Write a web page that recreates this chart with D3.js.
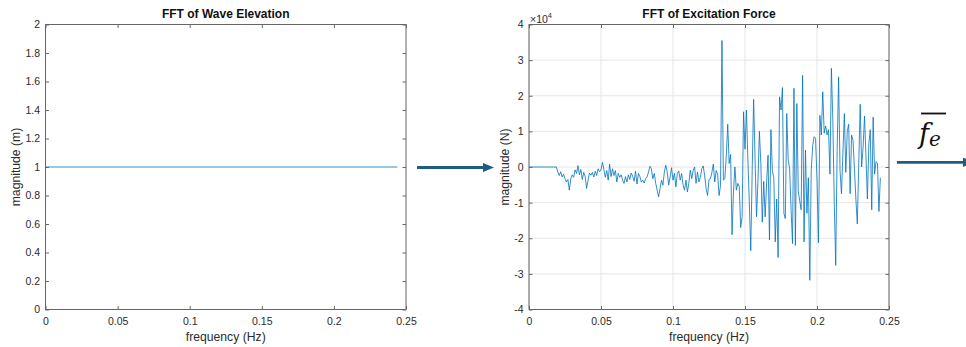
<!DOCTYPE html>
<html>
<head>
<meta charset="utf-8">
<script src="https://cdn.jsdelivr.net/npm/d3@7"></script>
<style>
  html, body { margin: 0; padding: 0; background: #fff; }
  svg { display: block; font-family: "Liberation Sans", Arial, Helvetica, sans-serif; }
</style>
</head>
<body>
<svg id="fig" width="966" height="347"></svg>
<script>
// Axis ticks
const freqTicks = [0, 0.05, 0.1, 0.15, 0.2, 0.25];
const waveTicks = [0, 0.2, 0.4, 0.6, 0.8, 1, 1.2, 1.4, 1.6, 1.8, 2];
const forceTicks = [-40000, -30000, -20000, -10000, 0, 10000, 20000, 30000, 40000];

// Wave elevation spectrum (m): flat unit amplitude
const waveFreq = [0, 0.244];
const waveMag = [1, 1];

// Excitation force spectrum (N), one value per 0.001 Hz bin starting at 0 Hz
const forceStep = 0.001;
const forceMag = [
  0, 0, 0, 0, 0, 0, 0, 0, 0, 0,
  0, 0, 0, 0, 0, 0, 0, 0, 0, 0,
  -1400, -2400, -1300, -2800, -2000, -3300, -4200, -3500, -6500, -3300,
  -2200, -2900, -800, -1800, 400, -2200, -700, -3500, -1500, -2600,
  -6000, -3800, -1700, -2300, -1500, -2800, -1200, -2400, -500, -1300,
  -800, 1300, -700, -2900, -1000, -3700, 800, -2700, -500, -2400,
  -1000, -4200, -1800, -2900, -2200, -3700, -4600, -2700, -4200, -2200,
  -3500, -1700, -2600, -4000, -1200, -4800, -1800, -2700,
  -4200, -3700, -4500, -3300, -2800, -1400, 200, -500, -3300, -1800,
  -4600, -6500, -8400, -6000, -3700, -5100, -1400, 500, -1400, -5100,
  -2800, -200, -3700, -1800, -5600, -1800, -1100, -3700, -1800, -5100,
  -6500, -3700, -7000, -4600, -900, -3300, -900, 0, -4600, -1400,
  -4200,
  -2900, -500, 300, -2500, -6000, -8000, -3500, -3300, -1500, 800,
  -4200, -1000, -2000, -8000, -5200,
  35500, -3700, -3200, 3000, 12000, 1000, 3500, -19000, -7000, 0,
  -6500, -4600, -5500, -17000, -14000, 15500, 5000, 16000, 2000, -10000,
  -23500, -1000, 19000, 2000, -14000, -4000, 10000, 1000, -15500, -4000,
  -14000, -4500, 3300, -20500,
  10500, -1000, -3000, -21000, -9000, -25400, 19700, 16000, 22300, -13000,
  -14500, 15000, 1900, -500, -12000, -21500, 22100, -22000, 17800, -7000,
  -9500, -12000, 25700, -21000, 4700, -13000, -3000, -31800, -1000, 6000,
  8500, 8000, -3500, -21300, 14500, 9000, 21100, 9500, 11500, 9000,
  10500, -2000, 27700, 13000, -10000, -27600, 5000, 25300, -1000, -7500,
  4000, 15000, -1500, 10000, 12000, -7500, 9000, 7500, -500, -9000,
  -16000, 1000, 17600, 0, 5500, 14300, 3000, -9000, 6500, 10500,
  -12000, 14000, -2000, 1500, 1000, -12500, -3000
];
const forceFreq = forceMag.map((_, i) => i * forceStep);

const svg = d3.select('#fig');
const AXIS = '#666';
const TEXT = '#2b2b2b';
const LINE = '#0072BD';
const ARROW = '#1f5d80';

function drawPanel(cfg) {
  const b = cfg.box;
  const x = d3.scaleLinear().domain([0, 0.25]).range([b.x0, b.x1]);
  const y = d3.scaleLinear().domain(cfg.yDomain).range([b.y1, b.y0]);
  const g = svg.append('g');

  if (cfg.grid) {
    g.append('g').selectAll('line.vg').data(freqTicks).join('line')
      .attr('x1', d => x(d)).attr('x2', d => x(d))
      .attr('y1', b.y0).attr('y2', b.y1)
      .attr('stroke', '#e6e6e6').attr('stroke-width', 1);
    g.append('g').selectAll('line.hg').data(cfg.yTicks).join('line')
      .attr('x1', b.x0).attr('x2', b.x1)
      .attr('y1', d => y(d)).attr('y2', d => y(d))
      .attr('stroke', '#e6e6e6').attr('stroke-width', 1);
  }

  const line = d3.line().x(d => x(d[0])).y(d => y(d[1]));
  g.append('path')
    .datum(d3.zip(cfg.xs, cfg.ys))
    .attr('d', line)
    .attr('fill', 'none')
    .attr('stroke', LINE)
    .attr('stroke-width', 0.8)
    .attr('stroke-linejoin', 'round');

  const style = (sel) => {
    sel.select('.domain').remove();
    sel.selectAll('.tick line').attr('stroke', AXIS);
    sel.selectAll('.tick text').attr('fill', TEXT).attr('font-size', 10.5)
      .attr('font-family', '"Liberation Sans", Arial, Helvetica, sans-serif');
    sel.attr('font-family', null).attr('font-size', null);
  };

  g.append('g').attr('transform', `translate(0,${b.y1})`)
    .call(d3.axisBottom(x).tickValues(freqTicks).tickFormat(d3.format('~g'))
      .tickSizeInner(-3.5).tickSizeOuter(0).tickPadding(8.5))
    .call(style);
  g.append('g').attr('transform', `translate(0,${b.y0})`)
    .call(d3.axisTop(x).tickValues(freqTicks).tickFormat('')
      .tickSizeInner(-3.5).tickSizeOuter(0))
    .call(style);
  g.append('g').attr('transform', `translate(${b.x0},0)`)
    .call(d3.axisLeft(y).tickValues(cfg.yTicks).tickFormat(cfg.yFormat)
      .tickSizeInner(-3.5).tickSizeOuter(0).tickPadding(5.5))
    .call(style);
  g.append('g').attr('transform', `translate(${b.x1},0)`)
    .call(d3.axisRight(y).tickValues(cfg.yTicks).tickFormat('')
      .tickSizeInner(-3.5).tickSizeOuter(0))
    .call(style);

  g.append('rect')
    .attr('x', b.x0).attr('y', b.y0)
    .attr('width', b.x1 - b.x0).attr('height', b.y1 - b.y0)
    .attr('fill', 'none').attr('stroke', AXIS).attr('stroke-width', 1);

  const cx = (b.x0 + b.x1) / 2;
  g.append('text').attr('x', cx).attr('y', 18.3)
    .attr('text-anchor', 'middle').attr('font-weight', 'bold')
    .attr('font-size', 12).attr('fill', '#111').text(cfg.title);
  g.append('text').attr('x', cx).attr('y', 340.5)
    .attr('text-anchor', 'middle').attr('font-size', 12.2)
    .attr('fill', TEXT).text('frequency (Hz)');
  g.append('text')
    .attr('transform', `translate(${cfg.yLabelX},${(b.y0 + b.y1) / 2}) rotate(-90)`)
    .attr('text-anchor', 'middle').attr('font-size', 12.2)
    .attr('fill', TEXT).text(cfg.yLabel);
  return g;
}

drawPanel({
  box: { x0: 45.5, x1: 406, y0: 24.5, y1: 309.5 },
  yDomain: [0, 2], yTicks: waveTicks, yFormat: d3.format('~g'),
  xs: waveFreq, ys: waveMag,
  title: 'FFT of Wave Elevation', yLabel: 'magnitude (m)', yLabelX: 20
});

const right = drawPanel({
  box: { x0: 529, x1: 889, y0: 24.5, y1: 309.5 },
  yDomain: [-40000, 40000], yTicks: forceTicks, yFormat: d => String(d / 1e4),
  xs: forceFreq, ys: forceMag, grid: true,
  title: 'FFT of Excitation Force', yLabel: 'magnitude (N)', yLabelX: 509
});

// exponent marker for the force axis
const ex = right.append('text').attr('x', 530).attr('y', 22.5)
  .attr('fill', TEXT).attr('font-size', 10.5);
ex.append('tspan').text('\u00d710');
ex.append('tspan').attr('font-size', 7.5).attr('dy', -4.5).text('4');

// flow arrows between the stages
function arrow(x1, x2, tip, yy, w) {
  svg.append('line').attr('x1', x1).attr('x2', x2).attr('y1', yy).attr('y2', yy)
    .attr('stroke', ARROW).attr('stroke-width', w);
  svg.append('path')
    .attr('d', `M${x2 - 1},${yy - 4.6}L${tip},${yy}L${x2 - 1},${yy + 4.6}Z`)
    .attr('fill', ARROW);
}
arrow(417, 484, 494, 167.5, 3);
arrow(897, 964, 975, 162.3, 2.7);

// mean excitation force symbol
const fe = svg.append('text').attr('x', 919).attr('y', 143)
  .attr('font-family', '"DejaVu Serif", "Liberation Serif", serif')
  .attr('font-style', 'italic').attr('fill', '#111');
fe.append('tspan').attr('font-size', 27).text('f');
fe.append('tspan').attr('font-size', 20).attr('dy', 3).text('e');
svg.append('line').attr('x1', 921).attr('x2', 946).attr('y1', 113.5).attr('y2', 113.5)
  .attr('stroke', '#111').attr('stroke-width', 1.8);
</script>
</body>
</html>
